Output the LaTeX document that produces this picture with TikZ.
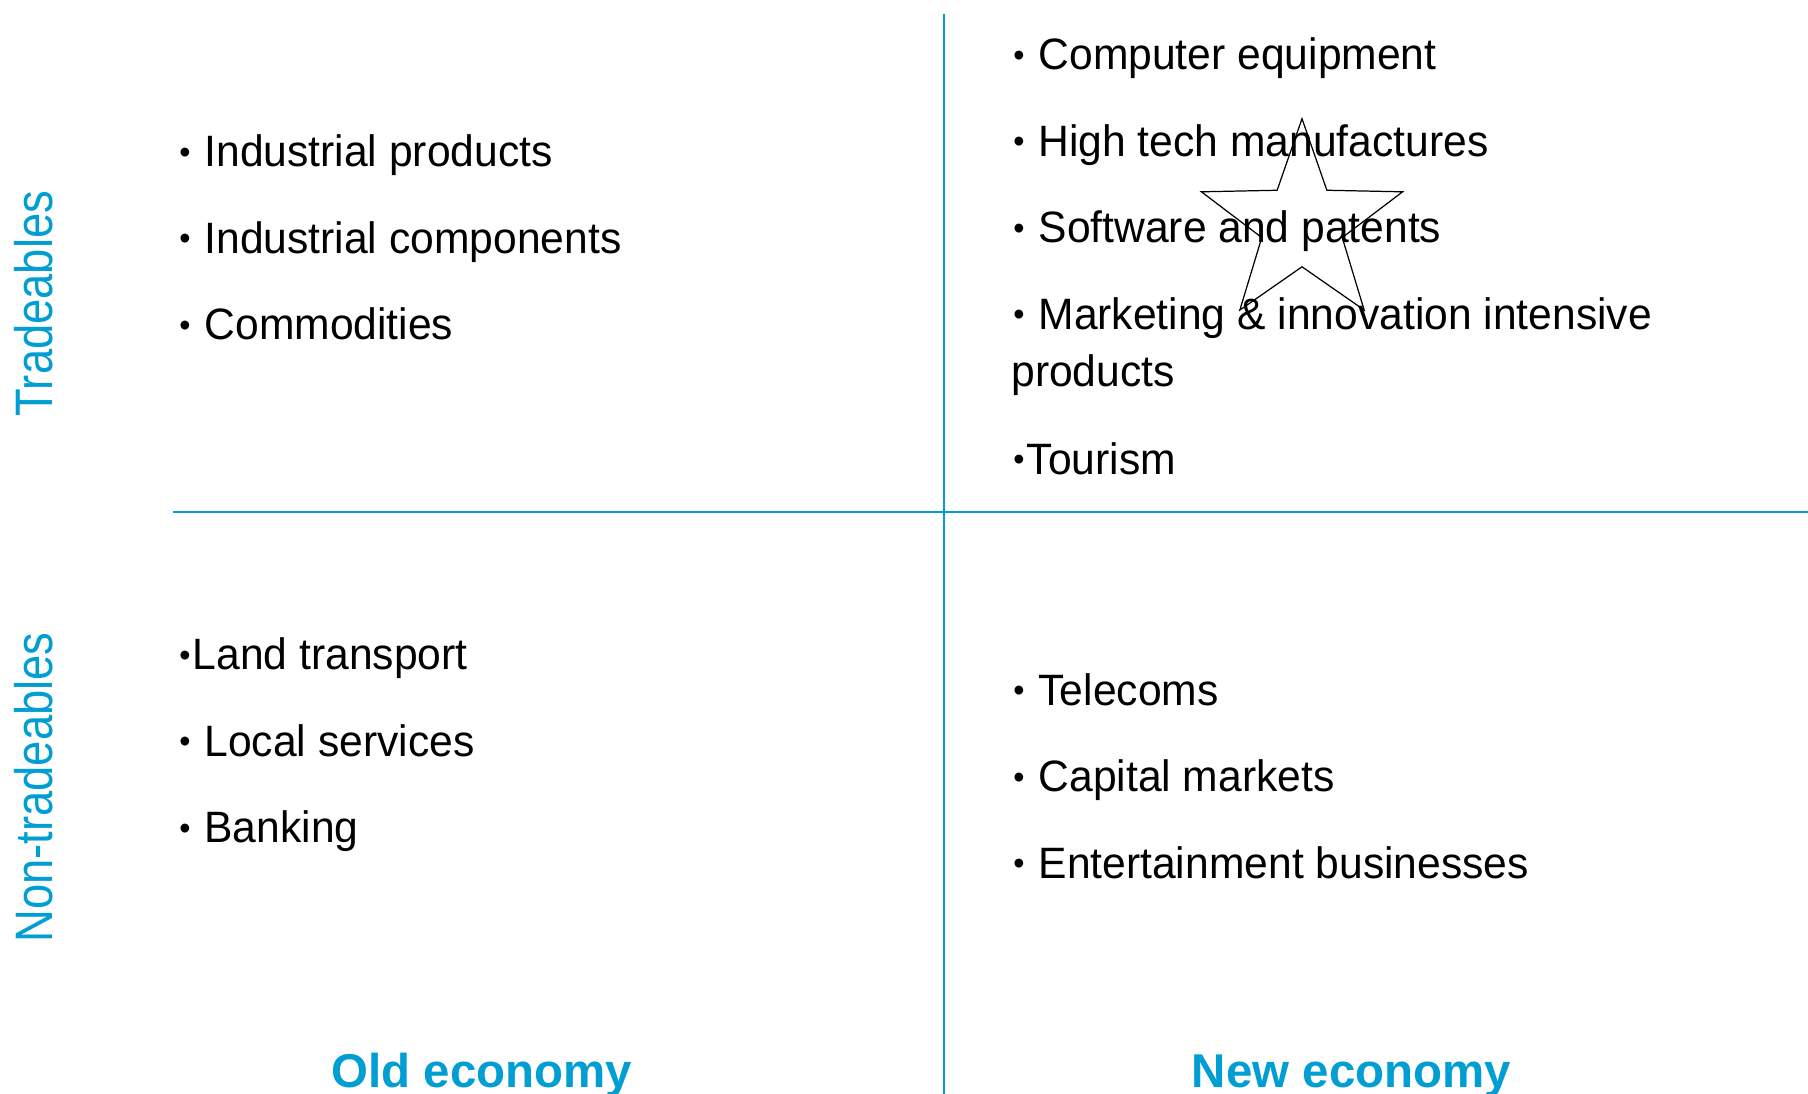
\documentclass[tikz,border=0pt]{standalone}
\usepackage{fontspec}
\setmainfont{Liberation Sans}
\newfontfamily\itemfont{Liberation Sans}[FakeStretch=0.97]
\newfontfamily\sidefont{Liberation Sans}[FakeStretch=0.86]
\usepackage{tikz}
\usetikzlibrary{shapes.geometric}
\definecolor{quadblue}{RGB}{0,158,210}
\newcommand{\itemdot}{\makebox[0.35em][c]{\raisebox{0.09em}{\scalebox{0.75}{•}}}}

\begin{document}
\begin{tikzpicture}[
        item/.style={anchor=base west, inner sep=0pt, font=\itemfont\fontsize{25}{30}\selectfont},
        side/.style={anchor=base, inner sep=0pt, rotate=90, color=quadblue, font=\sidefont\fontsize{30}{36}\selectfont},
        head/.style={anchor=base, inner sep=0pt, color=quadblue, font=\bfseries\fontsize{27}{32}\selectfont}]

        \useasboundingbox (0,0) rectangle (36.16,21.88);

        % Quadrant lines
        \coordinate (vtop) at (18.88,21.6);
        \coordinate (vbot) at (18.88,0);
        \coordinate (hleft) at (3.46,11.64);
        \coordinate (hright) at (36.16,11.64);
        \draw [line width=1.1pt, color=quadblue] (vtop) -- (vbot);
        \draw [line width=1.1pt, color=quadblue] (hleft) -- (hright);

        % Row labels
        \node at (1.06,15.81) [side] (trade) {Tradeables};
        \node at (1.06,6.13) [side] (nontrade) {Non-tradeables};

        % Column labels
        \node at (9.64,0.12) [head] (old) {Old economy};
        \node at (27.03,0.12) [head] (new) {New economy};

        % Old economy, tradeables
        \node at (3.54,18.54) [item] (indprod) {\itemdot{} Industrial products};
        \node at (3.54,16.81) [item] (indcomp) {\itemdot{} Industrial components};
        \node at (3.54,15.08) [item] (commod) {\itemdot{} Commodities};

        % Old economy, non-tradeables
        \node at (3.54,8.48) [item] (landtr) {\itemdot Land transport};
        \node at (3.54,6.75) [item] (localserv) {\itemdot{} Local services};
        \node at (3.54,5.02) [item] (banking) {\itemdot{} Banking};

        % New economy, tradeables
        \node at (20.22,20.48) [item] (compeq) {\itemdot{} Computer equipment};
        \node at (20.22,18.75) [item] (hightech) {\itemdot{} High tech manufactures};
        \node at (20.22,17.02) [item] (software) {\itemdot{} Software and patents};
        \node at (20.22,15.29) [item] (marketing) {\itemdot{} Marketing \& innovation intensive};
        \node at (20.22,14.14) [item] (products) {products};
        \node at (20.22,12.39) [item] (tourism) {\itemdot Tourism};

        % New economy, non-tradeables
        \node at (20.22,7.77) [item] (telecoms) {\itemdot{} Telecoms};
        \node at (20.22,6.04) [item] (capmark) {\itemdot{} Capital markets};
        \node at (20.22,4.31) [item] (entert) {\itemdot{} Entertainment businesses};

        % Star
        \node at (26.04,17.39) [draw, star, star points=5, star point ratio=2.5, minimum size=4.23cm, inner sep=0pt, line width=0.7pt] (star) {};

\end{tikzpicture}
\end{document}
